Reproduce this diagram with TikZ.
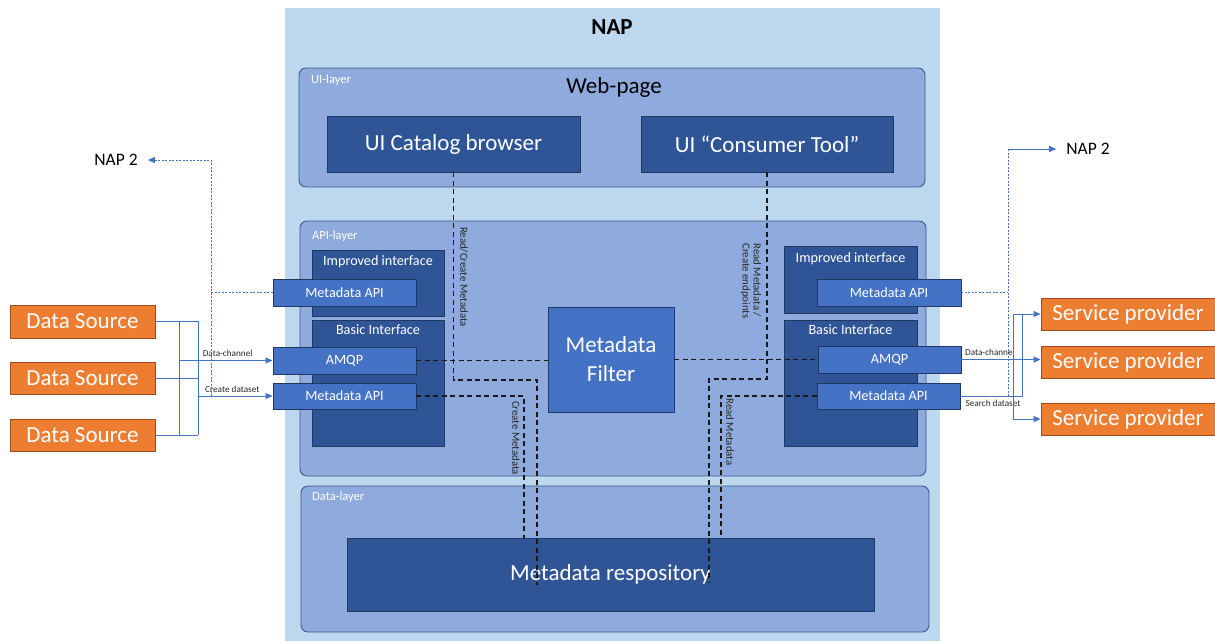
\documentclass[tikz,border=0pt]{standalone}
\usepackage{fontspec}
\setmainfont{Carlito}
\usetikzlibrary{arrows.meta}
\definecolor{napfill}{HTML}{BDD7EE}
\definecolor{layerfill}{HTML}{8FAADC}
\definecolor{layerline}{HTML}{3A5A8C}
\definecolor{darkfill}{HTML}{2F5597}
\definecolor{darkline}{HTML}{1F3864}
\definecolor{midfill}{HTML}{4472C4}
\definecolor{midline}{HTML}{203864}
\definecolor{orangefill}{HTML}{ED7D31}
\definecolor{orangeline}{HTML}{9C4A1A}
\definecolor{linkblue}{HTML}{4472C4}
\definecolor{dashink}{HTML}{1A1A1A}
\tikzset{
  fs/.style={font=\fontsize{#1}{#1}\selectfont},
  sized/.style 2 args={minimum width=#1pt, minimum height=#2pt, inner sep=0pt, anchor=center},
  layerbox/.style={draw=layerline, fill=layerfill, rounded corners=7pt, line width=0.9pt},
  layertag/.style={anchor=west, text=white, fs=12.5, inner sep=0pt},
  darkbox/.style={draw=darkline, fill=darkfill, line width=0.9pt, text=white, fs=23},
  ifacebox/.style={draw=darkline, fill=darkfill, line width=0.9pt},
  ifacetag/.style={anchor=north, text=white, fs=14.2, inner sep=0pt},
  apibox/.style={draw=midline, fill=midfill, line width=0.9pt, text=white, fs=14.2},
  srcbox/.style={draw=orangeline, fill=orangefill, line width=0.9pt, text=white, fs=23},
  bluelink/.style={draw=linkblue, line width=0.9pt},
  bluearrow/.style={bluelink, -{Triangle[length=7pt,width=6pt]}},
  bluedash/.style={draw=linkblue, line width=0.8pt, dash pattern=on 2pt off 1.5pt},
  blackdash/.style={draw=dashink, line width=1.3pt, dash pattern=on 5pt off 3.5pt},
  linktag/.style={fs=9.2, text=black!85, inner sep=0pt},
  vtag/.style={fs=10.8, text=black!85, rotate=-90, inner sep=0pt},
}
\begin{document}
\begin{tikzpicture}[x=1pt,y=-1pt]
\useasboundingbox (0,0) rectangle (1215,641);

% NAP container
\node[fill=napfill, sized={655}{633}] (nap) at (612.5,324.5) {};
\node[font=\fontsize{23}{23}\selectfont\bfseries] (naptitle) at (612,27) {NAP};

% UI layer
\node[layerbox, sized={626}{119}] (uilayer) at (612,127.5) {};
\node[layertag] (uitag) at (311,80) {UI-layer};
\node[fs=23] (webpage) at (614,87) {Web-page};
\node[darkbox, sized={253}{56}] (uicat) at (453.5,144) {UI Catalog browser};
\node[darkbox, sized={252}{56}] (uicons) at (767,144) {UI “Consumer Tool”};

% API layer
\node[layerbox, sized={626}{255}] (apilayer) at (613,348.5) {};
\node[layertag] (apitag) at (312,236) {API-layer};

\node[ifacebox, sized={132}{66}] (impL) at (378,283) {};
\node[ifacetag] (impLtag) at (378,255) {Improved interface};
\node[ifacebox, sized={132}{126}] (basL) at (378,383) {};
\node[ifacetag] (basLtag) at (378,325) {Basic Interface};
\node[apibox, sized={143}{27}] (mapiImpL) at (344.5,292.5) {Metadata API};
\node[apibox, sized={143}{27}] (amqpL) at (344.5,360.5) {AMQP};
\node[apibox, sized={143}{26}] (mapiL) at (344.5,396) {Metadata API};

\node[apibox, sized={126}{105}, font=\fontsize{23}{29}\selectfont, align=center] (filter) at (611,359.5) {Metadata\\Filter};

\node[ifacebox, sized={133}{67}] (impR) at (850.5,279.5) {};
\node[ifacetag] (impRtag) at (850.5,252) {Improved interface};
\node[ifacebox, sized={133}{126}] (basR) at (850.5,383) {};
\node[ifacetag] (basRtag) at (850.5,325) {Basic Interface};
\node[apibox, sized={144}{27}] (mapiImpR) at (889,292.5) {Metadata API};
\node[apibox, sized={143}{27}] (amqpR) at (889.5,359.5) {AMQP};
\node[apibox, sized={143}{26}] (mapiR) at (888.5,396) {Metadata API};

% Data layer
\node[layerbox, sized={628}{146}] (datalayer) at (615,559) {};
\node[layertag] (datatag) at (312,497) {Data-layer};
\node[darkbox, sized={527}{73}] (repo) at (610.5,574.5) {Metadata respository};

% Sources and consumers
\node[srcbox, sized={145}{33}] (ds1) at (82.5,321.5) {Data Source};
\node[srcbox, sized={145}{32}] (ds2) at (82.5,378) {Data Source};
\node[srcbox, sized={145}{32}] (ds3) at (82.5,435) {Data Source};
\node[srcbox, sized={174}{32}] (sp1) at (1128,314) {Service provider};
\node[srcbox, sized={174}{32}] (sp2) at (1128,362) {Service provider};
\node[srcbox, sized={174}{32}] (sp3) at (1128,419) {Service provider};

\node[fs=17.5, inner sep=0pt] (nap2L) at (116,160) {NAP 2};
\node[fs=17.5, inner sep=0pt] (nap2R) at (1088,149) {NAP 2};

% bus and tap positions
\coordinate (busA) at (179,0);
\coordinate (busB) at (198,0);
\coordinate (tapL) at (211,0);
\coordinate (tapR) at (1008,0);
\coordinate (busC) at (1013,0);
\coordinate (busD) at (1022,0);

% left side feeds
\draw[bluelink] (ds1.east) -- (ds1.east -| busB) -- (ds3.east -| busB);
\draw[bluelink] (ds2.east) -- (ds2.east -| busB);
\draw[bluelink] (ds3.east) -- (ds3.east -| busB);
\draw[bluelink] (ds1.east -| busA) -- (ds3.east -| busA);
\draw[bluearrow] (amqpL.west -| busA) -- (amqpL.west)
  node[linktag, pos=0.52, above=3pt] (dcL) {Data-channel};
\draw[bluearrow] (mapiL.west -| busB) -- (mapiL.west)
  node[linktag, pos=0.46, above=3pt] (cdL) {Create dataset};
\draw[bluedash] (mapiImpL.west) -- (mapiImpL.west -| tapL);
\draw[bluedash, -{Triangle[length=7pt,width=6pt]}, shorten >=10pt]
  (mapiL.west -| tapL) -- (nap2L.east -| tapL) -- (nap2L.east);

% right side feeds
\draw[bluedash] (mapiImpR.east) -- (mapiImpR.east -| tapR);
\draw[bluedash] (mapiR.east -| tapR) -- (nap2R.west -| tapR);
\draw[bluearrow, shorten >=10pt] (nap2R.west -| tapR) -- (nap2R.west);
\draw[bluearrow] (amqpR.east) -- (amqpR.east -| sp2.west)
  node[linktag, pos=0.36, above=3pt] (dcR) {Data-channel};
\draw[bluelink] (mapiR.east) -- (mapiR.east -| busD) -- (sp1.west -| busD)
  node[linktag, pos=0, xshift=-29pt, yshift=-7pt, anchor=center] (sdR) {Search dataset};
\draw[bluelink] (sp1.west -| busC) -- (sp3.west -| busC);
\draw[bluearrow] (sp1.west -| busC) -- (sp1.west);
\draw[bluearrow] (sp3.west -| busC) -- (sp3.west);

% internal metadata flows
\coordinate (rc1) at (537,380);
\coordinate (cmtop) at (524,396);
\coordinate (rc2) at (709,379);
\coordinate (rmtop) at (721,396);
\draw[blackdash] (uicat.south) |- (rc1) -- (537,585);
\draw[blackdash] (amqpL.east) -- (amqpL.east -| filter.west);
\draw[blackdash] (mapiL.east) -- (cmtop) -- (cmtop |- repo.north);
\draw[blackdash] (uicons.south) |- (rc2) -- (709,583);
\draw[blackdash] (filter.east) -- (filter.east -| amqpR.west);
\draw[blackdash] (mapiR.west) -- (rmtop) -- (rmtop |- repo.north);

\node[vtag] (lblRC) at (464,277) {Read/Create Metadata};
\node[vtag, align=left] (lblRE) at (751,281) {Read Metadata /\\Create endpoints};
\node[vtag] (lblCM) at (516,438) {Create Metadata};
\node[vtag] (lblRM) at (730,432) {Read Metadata};
\end{tikzpicture}
\end{document}
